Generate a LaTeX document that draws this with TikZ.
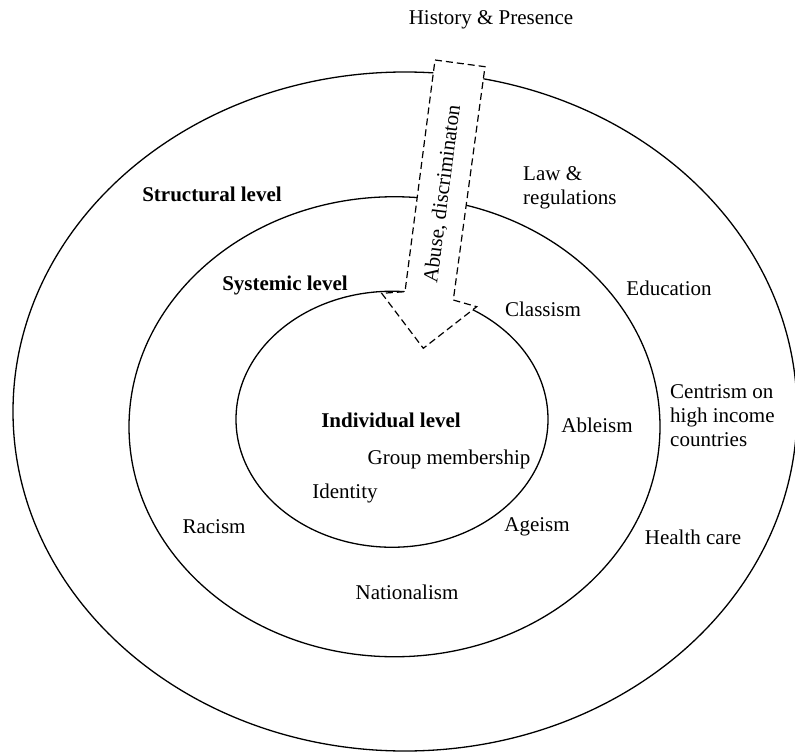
\documentclass[tikz,border=0pt]{standalone}
\usepackage{fontspec}
\setmainfont{Liberation Serif}
\usepackage{tikz}
\usetikzlibrary{shapes.geometric,positioning}

\begin{document}
\begin{tikzpicture}[x=1pt,y=-1pt,
        every node/.style={font=\fontsize{21}{24}\selectfont, inner sep=0pt},
        ring/.style={draw, ellipse, line width=1.3pt},
        level/.style={font=\fontsize{21}{24}\selectfont\bfseries},
        band/.style={draw, fill=white, line width=1.2pt, dash pattern=on 7pt off 4pt}]
        \useasboundingbox (0,0) rectangle (795,754);

        \node[ring, minimum width=784pt, minimum height=679pt] (struct) at (405,411.5) {};
        \node[ring, minimum width=531pt, minimum height=460pt] (syst) at (394.5,426.75) {};
        \node[ring, minimum width=312pt, minimum height=256pt] (indiv) at (392,419.25) {};

        \draw[band] (435,60) -- (485,66.7) -- (453.3,300) -- (476.7,306.7) -- (423.3,348.3)
            -- (381.7,293.3) -- (405,291.7) -- cycle;
        \node[rotate=82.6] (abuse) at (443,194) {Abuse, discriminaton};

        \node (history) at (491,20) {History \& Presence};
        \node[level] (structlbl) at (212,194) {Structural level};
        \node[level] (systlbl) at (285,285) {Systemic level};
        \node[level] (indivlbl) at (391,420) {Individual level};

        \node[align=left, anchor=west] (law) at (523,188) {Law \&\\regulations};
        \node (edu) at (669,288) {Education};
        \node[align=left, anchor=west] (centrism) at (670,416) {Centrism on\\high income\\countries};
        \node (health) at (693,537) {Health care};

        \node (classism) at (543,309) {Classism};
        \node (ableism) at (597,425) {Ableism};
        \node (ageism) at (537,527) {Ageism};
        \node (racism) at (214,527) {Racism};
        \node (nationalism) at (407,592) {Nationalism};

        \node (group) at (449,459) {Group membership};
        \node (identity) at (345,493) {Identity};
    \end{tikzpicture}
\end{document}
